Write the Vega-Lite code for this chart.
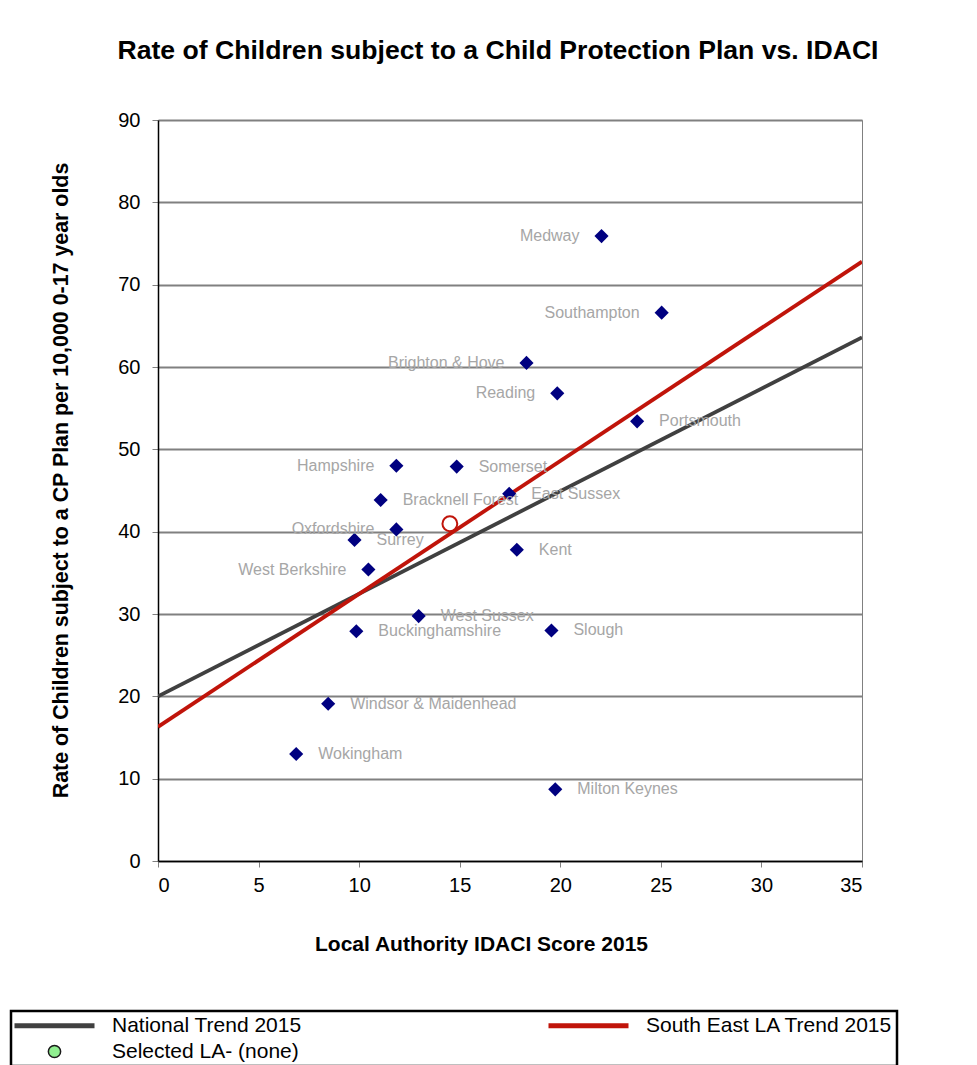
{
  "$schema": "https://vega.github.io/schema/vega-lite/v6.json",
  "width": 704,
  "height": 741,
  "autosize": {"type": "none"},
  "padding": {"left": 158, "top": 120, "right": 115, "bottom": 204},
  "background": "white",
  "config": {
    "font": "Liberation Sans",
    "view": {"stroke": "#808080", "strokeWidth": 1}
  },
  "title": {
    "text": "Rate of Children subject to a Child Protection Plan vs. IDACI",
    "fontSize": 26.6,
    "fontWeight": "bold",
    "color": "black",
    "anchor": "middle",
    "frame": "group",
    "baseline": "alphabetic",
    "offset": 24,
    "dx": -12
  },
  "datasets": {
    "trends": [
      {"series": "National Trend 2015", "idaci": 0, "rate": 20.0},
      {"series": "National Trend 2015", "idaci": 35, "rate": 63.6},
      {"series": "South East LA Trend 2015", "idaci": 0, "rate": 16.3},
      {"series": "South East LA Trend 2015", "idaci": 35, "rate": 72.8}
    ],
    "se": [
      {"name": "South East", "idaci": 14.51, "rate": 40.96}
    ],
    "las": [
      {"la": "Medway", "idaci": 22.05, "rate": 75.9},
      {"la": "Southampton", "idaci": 25.04, "rate": 66.6},
      {"la": "Brighton & Hove", "idaci": 18.32, "rate": 60.5},
      {"la": "Reading", "idaci": 19.85, "rate": 56.8},
      {"la": "Portsmouth", "idaci": 23.82, "rate": 53.4},
      {"la": "Hampshire", "idaci": 11.85, "rate": 48.0},
      {"la": "Somerset", "idaci": 14.85, "rate": 47.9},
      {"la": "East Sussex", "idaci": 17.46, "rate": 44.6},
      {"la": "Bracknell Forest", "idaci": 11.07, "rate": 43.85},
      {"la": "Oxfordshire", "idaci": 11.85, "rate": 40.27},
      {"la": "Surrey", "idaci": 9.77, "rate": 39.0},
      {"la": "Kent", "idaci": 17.84, "rate": 37.8},
      {"la": "West Berkshire", "idaci": 10.46, "rate": 35.4},
      {"la": "West Sussex", "idaci": 12.96, "rate": 29.75},
      {"la": "Buckinghamshire", "idaci": 9.86, "rate": 27.9},
      {"la": "Slough", "idaci": 19.56, "rate": 28.0},
      {"la": "Windsor & Maidenhead", "idaci": 8.46, "rate": 19.1},
      {"la": "Wokingham", "idaci": 6.87, "rate": 13.0},
      {"la": "Milton Keynes", "idaci": 19.75, "rate": 8.7}
    ]
  },
  "encoding": {
    "x": {
      "field": "idaci",
      "type": "quantitative",
      "scale": {"domain": [0, 35], "nice": false, "zero": false},
      "axis": {
        "title": "Local Authority IDACI Score 2015",
        "values": [0, 5, 10, 15, 20, 25, 30, 35],
        "grid": false,
        "domainColor": "black",
        "domainWidth": 1.5,
        "tickColor": "#808080",
        "tickSize": 6,
        "labelFontSize": 20,
        "labelColor": "black",
        "labelPadding": 8,
        "titleFontSize": 21,
        "titleFontWeight": "bold",
        "titleColor": "black",
        "titleX": 323,
        "titleY": 83,
        "titleAlign": "center",
        "titleBaseline": "middle"
      }
    },
    "y": {
      "field": "rate",
      "type": "quantitative",
      "scale": {"domain": [0, 90], "nice": false, "zero": false},
      "axis": {
        "title": "Rate of Children subject to a CP Plan per 10,000 0-17 year olds",
        "values": [0, 10, 20, 30, 40, 50, 60, 70, 80, 90],
        "grid": true,
        "gridColor": "#808080",
        "gridWidth": 2,
        "gridOpacity": 1,
        "domainColor": "black",
        "domainWidth": 1.5,
        "tickColor": "#808080",
        "tickSize": 6,
        "labelFontSize": 20,
        "labelColor": "black",
        "labelPadding": 12,
        "titleFontSize": 21.4,
        "titleFontWeight": "bold",
        "titleColor": "black",
        "titleAngle": 270,
        "titleX": -97,
        "titleY": 360,
        "titleAlign": "center",
        "titleBaseline": "middle"
      }
    }
  },
  "layer": [
    {
      "data": {"name": "trends"},
      "mark": {"type": "line", "strokeWidth": 3.8, "clip": true},
      "encoding": {
        "color": {
          "field": "series",
          "type": "nominal",
          "scale": {
            "domain": ["National Trend 2015", "Selected LA- (none)", "South East LA Trend 2015"],
            "range": ["#404040", "#1a1a1a", "#C0140A"]
          },
          "legend": {
            "orient": "none",
            "legendX": -147,
            "legendY": 891,
            "columns": 2,
            "title": null,
            "symbolType": "stroke",
            "symbolSize": 6400,
            "symbolStrokeWidth": 5,
            "symbolOffset": 29,
            "labelFontSize": 21,
            "labelColor": "black",
            "labelFont": "Liberation Sans",
            "labelOffset": 47,
            "labelLimit": 400,
            "columnPadding": 236,
            "rowPadding": 4,
            "padding": 4,
            "strokeColor": "black",
            "encode": {
              "legend": {
                "update": {
                  "strokeWidth": {"value": 2.5}
                }
              },
              "symbols": {
                "update": {
                  "shape": {"signal": "datum.value === 'Selected LA- (none)' ? 'circle' : 'stroke'"},
                  "size": {"signal": "datum.value === 'Selected LA- (none)' ? 150 : 6400"},
                  "fill": {"signal": "datum.value === 'Selected LA- (none)' ? '#90EE90' : 'transparent'"},
                  "strokeWidth": {"signal": "datum.value === 'Selected LA- (none)' ? 1.5 : 5"}
                }
              }
            }
          }
        }
      }
    },
    {
      "data": {"name": "se"},
      "mark": {"type": "point", "shape": "circle", "size": 220, "filled": true, "fill": "white", "stroke": "#C0140A", "strokeWidth": 2, "opacity": 1}
    },
    {
      "data": {"name": "las"},
      "mark": {"type": "point", "shape": "diamond", "size": 200, "filled": true, "color": "#000080", "opacity": 1}
    },
    {
      "data": {"name": "las"},
      "transform": [{"filter": {"not": {"field": "la", "oneOf": ["Medway", "Southampton", "Brighton & Hove", "Reading", "Hampshire", "Oxfordshire", "West Berkshire"]}}}],
      "mark": {"type": "text", "align": "left", "baseline": "middle", "dx": 22, "fontSize": 16, "color": "#A6A6A6"},
      "encoding": {"text": {"field": "la"}}
    },
    {
      "data": {"name": "las"},
      "transform": [{"filter": {"field": "la", "oneOf": ["Medway", "Southampton", "Brighton & Hove", "Reading", "Hampshire", "Oxfordshire", "West Berkshire"]}}],
      "mark": {"type": "text", "align": "right", "baseline": "middle", "dx": -22, "fontSize": 16, "color": "#A6A6A6"},
      "encoding": {"text": {"field": "la"}}
    }
  ]
}
